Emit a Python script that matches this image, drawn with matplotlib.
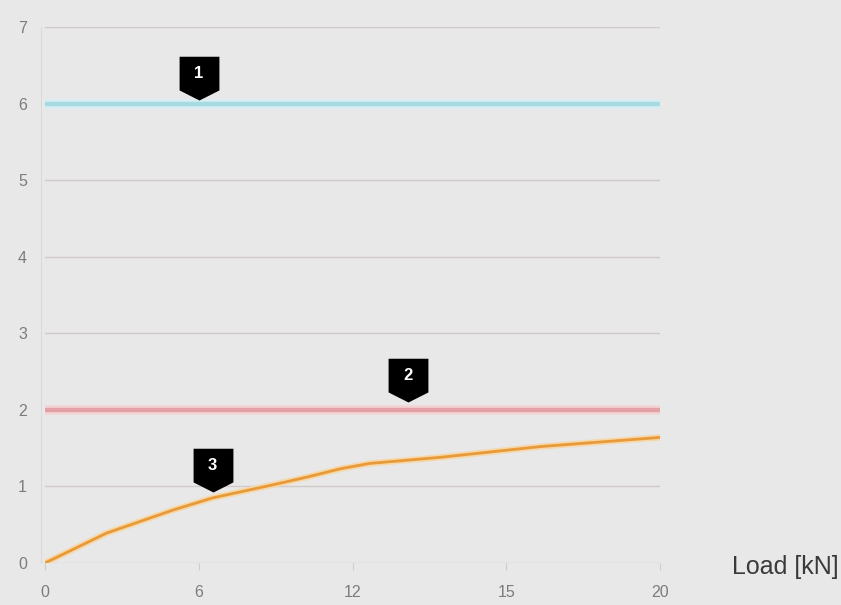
import matplotlib
matplotlib.use("Agg")
import matplotlib.pyplot as plt
from matplotlib.path import Path

# x axis: evenly spaced categories
load_labels = ["0", "6", "12", "15", "20"]
y_ticks = [0, 1, 2, 3, 4, 5, 6, 7]

# limit lines
limit_1 = 6.0
limit_2 = 2.0

# measured curve (x in tick-index units)
curve_x = [0.0, 0.40, 0.83, 1.09, 1.48, 1.70, 1.92, 2.11, 2.57, 3.22, 4.0]
curve_y = [0.0, 0.39, 0.69, 0.85, 1.02, 1.12, 1.23, 1.30, 1.38, 1.52, 1.64]

# badge labels
badge_text = ["1", "2", "3"]
badge_x = [1.0, 2.36, 1.09]
badge_y = [6.05, 2.10, 0.93]

plt.rcParams['font.family'] = ['Liberation Sans', 'DejaVu Sans']

fig = plt.figure(figsize=(8.41, 6.05), dpi=100)
fig.patch.set_facecolor('#e8e8e8')
ax = fig.add_axes([45 / 841, 1 - 563 / 605, 615 / 841, 536 / 605])
ax.set_facecolor('#e8e8e8')

ax.set_xlim(0, len(load_labels) - 1)
ax.set_ylim(0, 7)

for yv in y_ticks:
    ax.axhline(yv, color='#cfc9c9', lw=1.0, zorder=1)

# limit lines with soft halo
ax.axhline(limit_1, color='#d8eef2', lw=7, zorder=2)
ax.axhline(limit_1, color='#a6dbe4', lw=3.2, zorder=3)
ax.axhline(limit_2, color='#f2d6d6', lw=7, zorder=2)
ax.axhline(limit_2, color='#e2a2a5', lw=3.2, zorder=3)

ax.plot(curve_x, curve_y, color='#f6d7a8', lw=4.5, zorder=3, solid_capstyle='round')
ax.plot(curve_x, curve_y, color='#e99a38', lw=2.0, zorder=4)

# shield shaped badges
shield = Path([(-0.455, 1.0), (0.455, 1.0), (0.455, 0.23), (0.0, 0.0),
               (-0.455, 0.23), (-0.455, 1.0)],
              [Path.MOVETO, Path.LINETO, Path.LINETO, Path.LINETO,
               Path.LINETO, Path.CLOSEPOLY])
for t, bx, by in zip(badge_text, badge_x, badge_y):
    ax.plot([bx], [by], marker=shield, markersize=63, color='black',
            markeredgewidth=0, zorder=6, clip_on=False)
    ax.annotate(t, (bx, by), xytext=(0, 19), textcoords='offset points',
                ha='center', va='center', color='white', fontsize=12,
                fontweight='bold', zorder=7)

ax.set_xticks(range(len(load_labels)))
ax.set_xticklabels(load_labels)
ax.set_yticks(y_ticks)
ax.tick_params(axis='x', length=5, color='#d0cccc', labelcolor='#7c7c7c',
               labelsize=11.5, pad=11)
ax.tick_params(axis='y', length=0, labelcolor='#7c7c7c', labelsize=11.5, pad=10)

for s in ['top', 'right', 'bottom']:
    ax.spines[s].set_visible(False)
ax.spines['left'].set_color('#dadada')
ax.spines['left'].set_position(('outward', 3))

fig.text(732 / 841, 1 - 567 / 605, 'Load [kN]', fontsize=18, color='#3a3a3a',
         ha='left', va='center')

fig.savefig('out.png', dpi=100, facecolor=fig.get_facecolor())
